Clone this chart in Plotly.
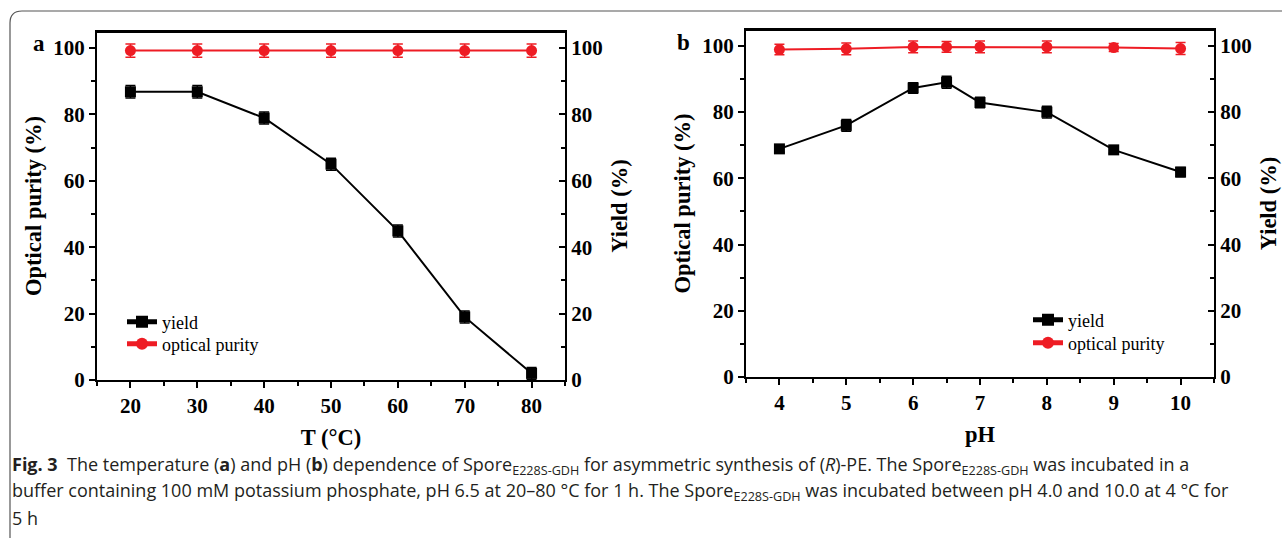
import plotly.graph_objects as go

# ---- data ----
temp = [20, 30, 40, 50, 60, 70, 80]
yield_t = [86.8, 86.8, 78.9, 65.0, 44.9, 19.0, 2.0]
yield_t_err = [1.9, 1.9, 1.8, 1.8, 1.8, 1.8, 1.8]
purity_t = [99.2, 99.2, 99.2, 99.2, 99.2, 99.2, 99.2]
purity_t_err = [2.0, 2.0, 2.0, 2.0, 2.0, 2.0, 2.0]

ph = [4, 5, 6, 6.5, 7, 8, 9, 10]
yield_p = [68.9, 76.0, 87.3, 89.0, 82.9, 80.0, 68.6, 61.9]
yield_p_err = [1.0, 1.8, 1.6, 1.8, 1.6, 1.8, 1.0, 1.4]
purity_p = [98.9, 99.1, 99.7, 99.7, 99.7, 99.7, 99.5, 99.2]
purity_p_err = [1.6, 1.8, 1.8, 1.6, 1.8, 1.8, 1.2, 1.8]

W, H = 1282, 538
def px(x): return x / W
def py(y): return 1 - y / H

SERIF = "Liberation Serif"
BLACK = "#000000"
RED = "#ee1c24"

fig = go.Figure()

def add_panel(xs, ys_y, ys_yerr, ys_p, ys_perr, xa, ya_left, ya_right, leg_y, leg_p):
    fig.add_trace(go.Scatter(
        x=xs, y=ys_y, name="yield", mode="lines+markers",
        line=dict(color=BLACK, width=2),
        marker=dict(symbol="square", size=11, color=BLACK),
        error_y=dict(type="data", array=ys_yerr, color=BLACK, thickness=1.5, width=5),
        xaxis=xa, yaxis=ya_right, legend=leg_y))
    fig.add_trace(go.Scatter(
        x=xs, y=ys_p, name="optical purity", mode="lines+markers",
        line=dict(color=RED, width=2),
        marker=dict(symbol="circle", size=11, color=RED),
        error_y=dict(type="data", array=ys_perr, color=RED, thickness=1.5, width=5),
        xaxis=xa, yaxis=ya_left, legend=leg_p))

add_panel(temp, yield_t, yield_t_err, purity_t, purity_t_err, "x", "y", "y2", "legend", "legend2")
add_panel(ph, yield_p, yield_p_err, purity_p, purity_p_err, "x2", "y3", "y4", "legend3", "legend4")

tickfont = dict(family=SERIF, size=21, color=BLACK, weight="bold")
titlefont = dict(family=SERIF, size=22.5, color=BLACK, weight="bold")

def xaxis_cfg(dom, rng, dtick, minor_dtick, title, anchor):
    return dict(domain=dom, range=rng, dtick=dtick, tick0=0, automargin=False,
                showline=True, linecolor=BLACK, linewidth=2, mirror=True,
                ticks="outside", ticklen=6, tickwidth=2, tickcolor=BLACK,
                minor=dict(ticks="outside", ticklen=4, tickwidth=2, tickcolor=BLACK, dtick=minor_dtick),
                showgrid=False, zeroline=False, tickfont=tickfont,
                title=dict(text=title, font=titlefont, standoff=12), anchor=anchor)

def yleft_cfg(dom, anchor):
    return dict(domain=dom, range=[0, 104.8], dtick=20, tick0=0, automargin=False,
                showline=True, linecolor=BLACK, linewidth=2,
                ticks="outside", ticklen=6, tickwidth=2, tickcolor=BLACK,
                minor=dict(ticks="outside", ticklen=4, tickwidth=2, tickcolor=BLACK, dtick=10),
                showgrid=False, zeroline=False, tickfont=tickfont,
                title=dict(text="Optical purity (%)", font=titlefont, standoff=5), anchor=anchor)

def yright_cfg(overlay, anchor):
    return dict(overlaying=overlay, side="right", range=[0, 104.8], dtick=20, tick0=0,
                automargin=False,
                showline=True, linecolor=BLACK, linewidth=2,
                ticks="inside", ticklen=6, tickwidth=2, tickcolor=BLACK,
                minor=dict(ticks="inside", ticklen=4, tickwidth=2, tickcolor=BLACK, dtick=10),
                showgrid=False, zeroline=False, tickfont=tickfont,
                title=dict(text="Yield (%)", font=titlefont, standoff=10), anchor=anchor)

A_L, A_R, A_T, A_B = 97, 565, 32, 380
B_L, B_R, B_T, B_B = 746, 1214, 30, 377

def leg(x, y):
    return dict(x=px(x), y=py(y), xanchor="left", yanchor="middle",
                bgcolor="rgba(0,0,0,0)", font=dict(family=SERIF, size=18, color=BLACK),
                itemsizing="constant", borderwidth=0)

fig.update_layout(
    width=W, height=H, autosize=False,
    margin=dict(l=0, r=0, t=0, b=0, autoexpand=False),
    paper_bgcolor="white", plot_bgcolor="white",
    xaxis=xaxis_cfg([px(A_L), px(A_R)], [15, 85], 10, 5, "T (°C)", "y"),
    yaxis=yleft_cfg([py(A_B), py(A_T)], "x"),
    yaxis2=yright_cfg("y", "x"),
    xaxis2=xaxis_cfg([px(B_L), px(B_R)], [3.5, 10.5], 1, 0.5, "pH", "y3"),
    yaxis3=yleft_cfg([py(B_B), py(B_T)], "x2"),
    yaxis4=yright_cfg("y3", "x2"),
    legend=leg(122, 322),
    legend2=leg(122, 344),
    legend3=leg(1028, 320),
    legend4=leg(1028, 343),
    showlegend=True,
)

# top frame lines of both panels
for l, r_, t in ((A_L, A_R, A_T), (B_L, B_R, B_T)):
    fig.add_shape(type="line", xref="paper", yref="paper",
                  x0=px(l - 1), x1=px(r_ + 1), y0=py(t), y1=py(t),
                  line=dict(color=BLACK, width=2), layer="above")

# panel letters
fig.add_annotation(text="<b>a</b>", x=px(31), y=py(29), xref="paper", yref="paper",
                   showarrow=False, font=dict(family=SERIF, size=23, color=BLACK))
fig.add_annotation(text="<b>b</b>", x=px(683), y=py(28), xref="paper", yref="paper",
                   showarrow=False, font=dict(family=SERIF, size=23, color=BLACK))

# caption
CAP = dict(family="Open Sans", size=18, color="#231f20")
cap_lines = [
    "<b>Fig. 3</b>  The temperature (<b>a</b>) and pH (<b>b</b>) dependence of Spore<sub>E228S-GDH</sub> for asymmetric synthesis of (<i>R</i>)-PE. The Spore<sub>E228S-GDH</sub> was incubated in a",
    "buffer containing 100 mM potassium phosphate, pH 6.5 at 20–80 °C for 1 h. The Spore<sub>E228S-GDH</sub> was incubated between pH 4.0 and 10.0 at 4 °C for",
    "5 h",
]
cap_y = [465, 492, 518]
for t, yy in zip(cap_lines, cap_y):
    fig.add_annotation(text=t, x=px(10), y=py(yy), xref="paper", yref="paper",
                       xanchor="left", yanchor="middle", showarrow=False, font=CAP, align="left")

# rounded border
x0, y0, r = 10, 11, 12
path = (f"M {px(x0)},{py(H)} L {px(x0)},{py(y0 + r)} "
        f"Q {px(x0)},{py(y0)} {px(x0 + r)},{py(y0)} L {px(W)},{py(y0)}")
fig.add_shape(type="path", path=path, xref="paper", yref="paper",
              line=dict(color="#555555", width=1.2))

fig.write_html("out.html",
               config={"responsive": False, "displayModeBar": False},
               post_script="document.body.style.margin='0';document.body.style.overflow='hidden';")
